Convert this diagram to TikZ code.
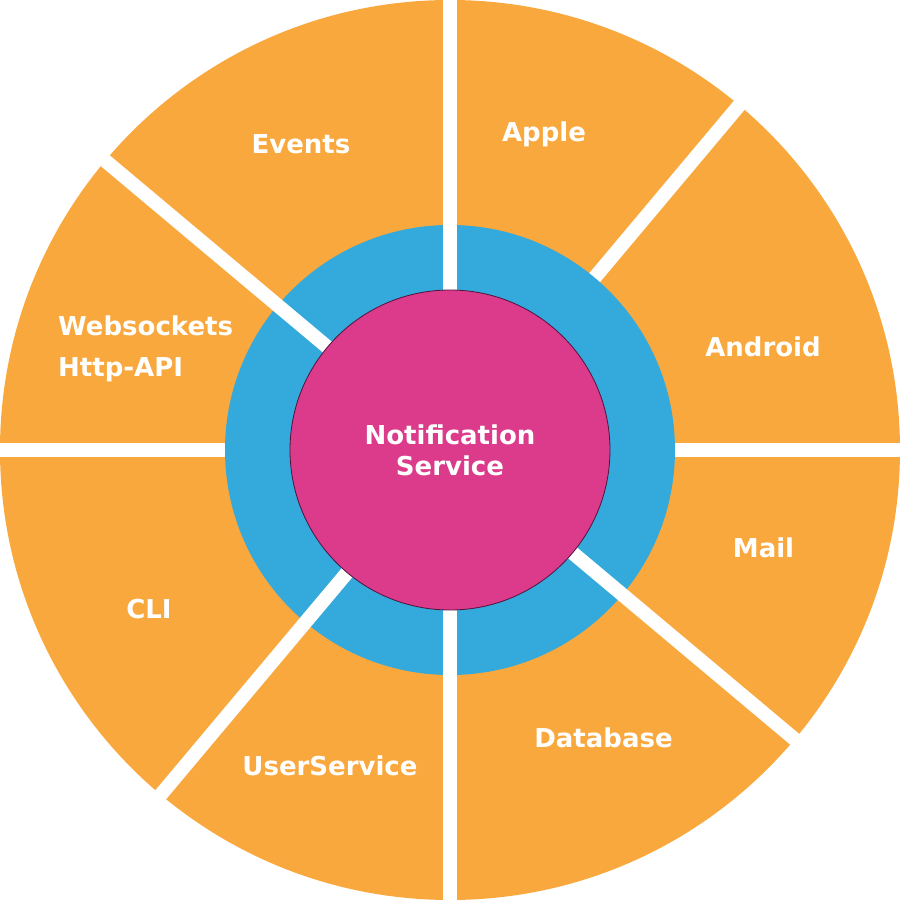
\documentclass[tikz,border=0pt]{standalone}
\usepackage{fontspec}
\setmainfont{DejaVu Sans}
\definecolor{orangeC}{RGB}{249,168,62}
\definecolor{blueC}{RGB}{51,169,220}
\definecolor{magC}{RGB}{219,59,138}
\definecolor{rimC}{RGB}{80,20,60}
\tikzset{
  lbl/.style={text=white,font=\fontsize{26}{31}\selectfont\bfseries,inner sep=0pt,anchor=base},
  lblw/.style={lbl,anchor=base west},
  gap/.style={draw=white,line width=14pt,line cap=butt}
}
\begin{document}
\begin{tikzpicture}[x=1pt,y=1pt]
\useasboundingbox (-450,-450) rectangle (450,450);
\fill[orangeC] (0,0) circle (450);
% gaps only through the orange ring
\foreach \a in {0,50,180} \draw[gap] (0,0) -- (\a:462);
\fill[blueC] (0,0) circle (225);
% gaps through orange and blue rings
\foreach \a in {90,140,230,270,320} \draw[gap] (0,0) -- (\a:462);
\node[circle,fill=magC,draw=rimC,line width=0.8pt,minimum size=320pt,inner sep=0pt] (core) at (0,0) {};
\node[lbl] (notif) at (0,6) {Notification};
\node[lbl] (serv) at (0,-25) {Service};
\node[lbl] (events) at (-149,296) {Events};
\node[lbl] (apple) at (94,308) {Apple};
\node[lblw] (ws) at (-392,114) {Websockets};
\node[lblw] (http) at (-392,74) {Http-API};
\node[lbl] (android) at (313,93) {Android};
\node[lbl] (mail) at (313.5,-107) {Mail};
\node[lbl] (cli) at (-301,-168) {CLI};
\node[lbl] (db) at (153.5,-297) {Database};
\node[lbl] (us) at (-120,-325) {UserService};
\end{tikzpicture}
\end{document}
